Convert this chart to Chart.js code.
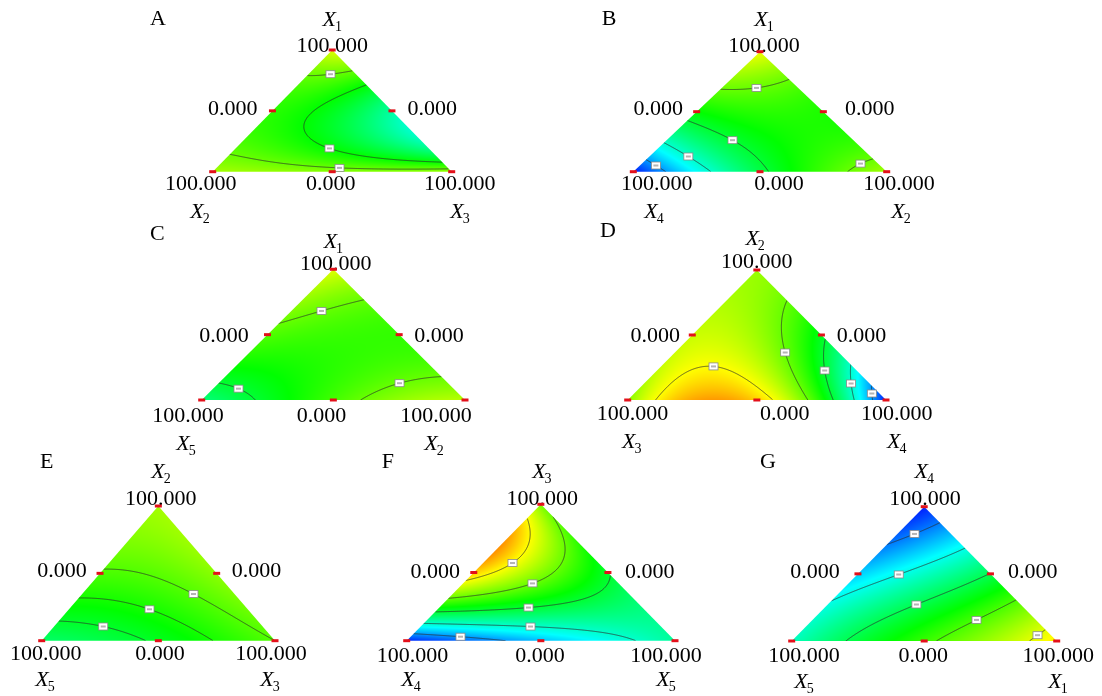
<!DOCTYPE html>
<html><head><meta charset="utf-8">
<script src="https://cdn.jsdelivr.net/npm/chart.js@4.4.0/dist/chart.umd.min.js"></script>
<style>
html,body{margin:0;padding:0;background:#fff;}
#wrap{position:relative;width:1102px;height:696px;overflow:hidden;background:#fff;}
#wrap canvas{position:absolute;}
</style></head>
<body><div id="wrap"></div>
<script>
// ===================== DATA =====================
const panelLetters   = ['A','B','C','D','E','F','G'];
const topComponent   = ['1','1','1','2','2','3','4'];
const leftComponent  = ['2','4','5','3','5','4','5'];
const rightComponent = ['3','2','2','4','3','5','1'];
const vertexTickLabel = '100.000';
const midTickLabel    = '0.000';

// {3,3} simplex lattice (in thirds): top, left, right component
const latticeTop   = [3,2,2,1,1,1,0,0,0,0];
const latticeLeft  = [0,1,0,2,1,0,3,2,1,0];
const latticeRight = [0,0,1,0,1,2,0,1,2,3];

// response at the lattice points (0 = blue ... 1 = red)
const responseA = [0.72,0.56,0.46,0.55,0.46,0.30,0.66,0.64,0.63,0.65];
const responseB = [0.74,0.59,0.56,0.38,0.50,0.53,0.02,0.32,0.52,0.66];
const responseC = [0.72,0.62,0.57,0.53,0.54,0.56,0.38,0.50,0.62,0.68];
const responseD = [0.65,0.68,0.56,0.70,0.68,0.35,0.63,0.85,0.64,0.03];
const responseE = [0.66,0.61,0.65,0.525,0.55,0.62,0.40,0.44,0.505,0.58];
const responseF = [0.62,0.86,0.52,0.63,0.52,0.40,0.04,0.14,0.24,0.35];
const responseG = [0.03,0.14,0.29,0.26,0.40,0.55,0.31,0.48,0.62,0.77];

// contour levels (same colour-scale units)
const levelsA = [0.50,0.60];
const levelsB = [0.15,0.30,0.45,0.60];
const levelsC = [0.45,0.60];
const levelsD = [0.15,0.30,0.45,0.60,0.75];
const levelsE = [0.46,0.52,0.58];
const levelsF = [0.15,0.30,0.45,0.60,0.75];
const levelsG = [0.12,0.27,0.42,0.57,0.72];

// design-point markers (vertices + edge midpoints): top, left, right fractions
const markerTop   = [1,0.5,0.5,0,0,0];
const markerLeft  = [0,0.5,0,1,0.5,0];
const markerRight = [0,0,0.5,0,0.5,1];

const responses = [responseA,responseB,responseC,responseD,responseE,responseF,responseG];
const levels    = [levelsA,levelsB,levelsC,levelsD,levelsE,levelsF,levelsG];

// ===================== LAYOUT (page px) =====================
const layout = [
 {L:[212.7,171.7], R:[451.7,171.7], Ty:50,   topTick:[0,1.7],   leftMid:[-15,4],    rightMid:[15.6,4],  bL:[-12,18.3],  bM:[-1.4,18.3], bR:[8,18.3],   tT:[0,-24],    tL:[-12.7,45.8], tR:[8.3,45.8],  letter:[150,25]},
 {L:[633.3,171.7], R:[886.7,171.7], Ty:51.7, topTick:[4,0],     leftMid:[-13.7,3.3],rightMid:[21.7,3.3],bL:[23.4,18.3], bM:[19,18.3],   bR:[12.3,18.3],tT:[4,-25.7],  tL:[20.7,45.8],  tR:[14.3,45.8], letter:[601.7,25]},
 {L:[201.7,400],   R:[465,400],     Ty:269.3,topTick:[2.3,1],   leftMid:[-18.7,7],  rightMid:[15,7],    bL:[-13.7,21.7],bM:[-11.8,21.7],bR:[-29,21.7], tT:[0,-21.7],  tL:[-15.7,49.6], tR:[-31,49.6],  letter:[150,240]},
 {L:[627.7,400],   R:[886,400],     Ty:270,  topTick:[0,-1.7],  leftMid:[-12.2,6.7],rightMid:[15.4,6.7],bL:[4.8,20],    bM:[28,20],     bR:[10.7,20],  tT:[-1.7,-25.4],tL:[4,47.6],    tR:[10.7,47.6], letter:[600,236.7]},
 {L:[41.7,640.7],  R:[275,640.7],   Ty:506,  topTick:[2.5,-1],  leftMid:[-13.3,3.4],rightMid:[15,3.4],  bL:[4.1,19.3],  bM:[1.7,19.3],  bR:[-4,19.3],  tT:[2.7,-28],  tL:[3.3,45.6],   tR:[-5,45.6],   letter:[40,468.3]},
 {L:[406.7,640.7], R:[675,640.7],   Ty:504.3,topTick:[1.5,0.7], leftMid:[-13.8,5.8],rightMid:[17,5.8],  bL:[5.8,21],    bM:[-0.8,21],   bR:[-9,21],    tT:[1,-26.3],  tL:[4.3,45.6],   tR:[-9,45.6],   letter:[381.7,468.3]},
 {L:[791.7,641],   R:[1056.7,641],  Ty:506.7,topTick:[0.8,-1.7],leftMid:[-18.3,4.5],rightMid:[17.5,4.5],bL:[12.3,20.7], bM:[-1,20.7],   bR:[1.6,20.7], tT:[0,-28.7],  tL:[12.3,46.6],  tR:[1.3,46.6],  letter:[760,468.3]}
];

const FONT = '"Liberation Serif","Times New Roman",serif';
const colorStops = [[0,0,0,255],[0.25,0,255,255],[0.5,0,255,0],[0.75,255,255,0],[1,255,0,0]];

function colorAt(v){
  v = Math.max(0, Math.min(1, v));
  for (let i=1;i<colorStops.length;i++){
    const a=colorStops[i-1], b=colorStops[i];
    if (v<=b[0]){ const f=(v-a[0])/(b[0]-a[0]);
      return [a[1]+(b[1]-a[1])*f, a[2]+(b[2]-a[2])*f, a[3]+(b[3]-a[3])*f]; }
  }
  return [255,0,0];
}
function phi(k,x){ const s=3*x; if(k===0) return 1; if(k===1) return s; if(k===2) return s*(s-1)/2; return s*(s-1)*(s-2)/6; }

function buildChains(segs){
  const map=new Map();
  segs.forEach((s,i)=>{ for(const k of [s.k1,s.k2]){ if(!map.has(k)) map.set(k,[]); map.get(k).push(i);} });
  const used=new Uint8Array(segs.length), chains=[];
  for(let s0=0;s0<segs.length;s0++){
    if(used[s0]) continue; used[s0]=1;
    const pts=[segs[s0].p1, segs[s0].p2];
    let k=segs[s0].k2;
    while(true){ const n=(map.get(k)||[]).find(q=>!used[q]); if(n===undefined) break; used[n]=1; const s=segs[n];
      if(s.k1===k){pts.push(s.p2);k=s.k2;} else {pts.push(s.p1);k=s.k1;} }
    k=segs[s0].k1;
    while(true){ const n=(map.get(k)||[]).find(q=>!used[q]); if(n===undefined) break; used[n]=1; const s=segs[n];
      if(s.k1===k){pts.unshift(s.p2);k=s.k2;} else {pts.unshift(s.p1);k=s.k1;} }
    chains.push(pts);
  }
  return chains;
}

const ternaryPlugin = {
  id:'ternary',
  beforeDatasetsDraw(chart){
    const o = chart.options.plugins.ternary;
    const ctx = chart.ctx, xs = chart.scales.x, ys = chart.scales.y;
    const P = (t,r)=>[xs.getPixelForValue(r+t/2), ys.getPixelForValue(t)];
    const T=P(1,0), L=P(0,0), R=P(0,1);
    const mL=P(0.5,0), mR=P(0.5,0.5), mB=P(0,0.5);
    const g=o.geo;
    // ---- texts ----
    ctx.save();
    ctx.fillStyle='#000'; ctx.textBaseline='alphabetic';
    ctx.font='22px '+FONT;
    ctx.textAlign='center';
    ctx.fillText(vertexTickLabel, T[0]+g.topTick[0], T[1]+g.topTick[1]);
    ctx.fillText(vertexTickLabel, L[0]+g.bL[0], L[1]+g.bL[1]);
    ctx.fillText(midTickLabel,    mB[0]+g.bM[0], mB[1]+g.bM[1]);
    ctx.fillText(vertexTickLabel, R[0]+g.bR[0], R[1]+g.bR[1]);
    ctx.textAlign='right';
    ctx.fillText(midTickLabel, mL[0]+g.leftMid[0], mL[1]+g.leftMid[1]);
    ctx.textAlign='left';
    ctx.fillText(midTickLabel, mR[0]+g.rightMid[0], mR[1]+g.rightMid[1]);
    ctx.fillText(o.letter, o.letterPos[0], o.letterPos[1]);
    const title=(sub,cx,by)=>{
      ctx.font='italic 22px '+FONT; const w1=ctx.measureText('X').width;
      ctx.font='14px '+FONT; const w2=ctx.measureText(sub).width;
      const x=cx-(w1+w2-1)/2;
      ctx.font='italic 22px '+FONT; ctx.fillText('X',x,by);
      ctx.font='14px '+FONT; ctx.fillText(sub,x+w1-1,by+5);
    };
    title(o.tTop, T[0]+g.tT[0], T[1]+g.tT[1]);
    title(o.tLeft, L[0]+g.tL[0], L[1]+g.tL[1]);
    title(o.tRight, R[0]+g.tR[0], R[1]+g.tR[1]);
    ctx.restore();

    // ---- response surface ----
    const nodes = chart.data.datasets[1].data.map(p=>{ const t=p.y, r=p.x-p.y/2, l=1-t-r;
      return [Math.round(3*t),Math.round(3*l),Math.round(3*r),p.v]; });
    const surf=(t,l,r)=>{ let v=0; for(const n of nodes) v+=n[3]*phi(n[0],t)*phi(n[1],l)*phi(n[2],r); return v; };
    const x0=Math.floor(L[0])-2, x1=Math.ceil(R[0])+2, y0=Math.floor(T[1])-2, y1=Math.ceil(L[1])+2;
    const W=x1-x0, H=y1-y0;
    const F=new Float32Array(W*H);
    const off=document.createElement('canvas'); off.width=W; off.height=H;
    const octx=off.getContext('2d'); const img=octx.createImageData(W,H);
    const bary=(px,py)=>{ const xv=xs.getValueForPixel(px), yv=ys.getValueForPixel(py); const t=yv, r=xv-t/2; return [t,1-t-r,r]; };
    for(let j=0;j<H;j++) for(let i=0;i<W;i++){
      const b=bary(x0+i+0.5,y0+j+0.5);
      const v=surf(b[0],b[1],b[2]); F[j*W+i]=v;
      const c=colorAt(v), q=(j*W+i)*4;
      img.data[q]=c[0]; img.data[q+1]=c[1]; img.data[q+2]=c[2]; img.data[q+3]=255;
    }
    octx.putImageData(img,0,0);
    ctx.save();
    ctx.beginPath(); ctx.moveTo(T[0],T[1]); ctx.lineTo(L[0],L[1]); ctx.lineTo(R[0],R[1]); ctx.closePath();
    ctx.clip();
    ctx.drawImage(off,x0,y0);

    // ---- contours ----
    const labels=[];
    for(const lev of o.levels){
      const segs=[];
      for(let j=0;j<H-1;j++) for(let i=0;i<W-1;i++){
        const a=F[j*W+i], b=F[j*W+i+1], c=F[(j+1)*W+i+1], d=F[(j+1)*W+i];
        const idx=(a>lev?8:0)|(b>lev?4:0)|(c>lev?2:0)|(d>lev?1:0);
        if(idx===0||idx===15) continue;
        const E={
          T:()=>({k:'h'+i+','+j,     p:[i+(lev-a)/(b-a), j]}),
          R:()=>({k:'v'+(i+1)+','+j, p:[i+1, j+(lev-b)/(c-b)]}),
          B:()=>({k:'h'+i+','+(j+1), p:[i+(lev-d)/(c-d), j+1]}),
          L:()=>({k:'v'+i+','+j,     p:[i, j+(lev-a)/(d-a)]})
        };
        const m=(a+b+c+d)/4;
        let pairs;
        switch(idx){
          case 1: case 14: pairs=[['L','B']]; break;
          case 2: case 13: pairs=[['B','R']]; break;
          case 3: case 12: pairs=[['L','R']]; break;
          case 4: case 11: pairs=[['T','R']]; break;
          case 6: case 9:  pairs=[['T','B']]; break;
          case 7: case 8:  pairs=[['T','L']]; break;
          case 5:  pairs = m>lev ? [['T','L'],['B','R']] : [['T','R'],['L','B']]; break;
          case 10: pairs = m>lev ? [['T','R'],['L','B']] : [['T','L'],['B','R']]; break;
        }
        for(const pr of pairs){
          const e1=E[pr[0]](), e2=E[pr[1]]();
          const p1=[x0+e1.p[0]+0.5, y0+e1.p[1]+0.5], p2=[x0+e2.p[0]+0.5, y0+e2.p[1]+0.5];
          const bm=bary((p1[0]+p2[0])/2,(p1[1]+p2[1])/2);
          if(Math.min(bm[0],bm[1],bm[2])<0) continue;
          segs.push({k1:e1.k,p1,k2:e2.k,p2});
        }
      }
      const chains=buildChains(segs);
      ctx.strokeStyle='rgba(45,45,45,0.8)'; ctx.lineWidth=0.9;
      for(const ch of chains){
        ctx.beginPath(); ctx.moveTo(ch[0][0],ch[0][1]);
        for(let k=1;k<ch.length;k++) ctx.lineTo(ch[k][0],ch[k][1]);
        ctx.stroke();
        let len=0; const cum=[0];
        for(let k=1;k<ch.length;k++){ len+=Math.hypot(ch[k][0]-ch[k-1][0],ch[k][1]-ch[k-1][1]); cum.push(len); }
        if(len>10){ const half=len/2; let k=1; while(cum[k]<half) k++; labels.push(ch[k]); }
      }
    }
    ctx.restore();
    ctx.save();
    for(const p of labels){
      ctx.fillStyle='#ffffff'; ctx.fillRect(p[0]-4.5,p[1]-3.5,9,7);
      ctx.strokeStyle='#8a8a8a'; ctx.lineWidth=0.8; ctx.strokeRect(p[0]-4.5,p[1]-3.5,9,7);
      ctx.fillStyle='#b4b4b4'; ctx.fillRect(p[0]-2.5,p[1]-1,5,2);
    }
    ctx.restore();
  }
};

const wrap=document.getElementById('wrap');
for(let p=0;p<7;p++){
  const g=layout[p];
  const cx=Math.round(g.L[0])-75, cy=Math.round(g.Ty)-58;
  const w=Math.round(g.R[0]-g.L[0])+150, h=Math.round(g.L[1]-g.Ty)+118;
  const cv=document.createElement('canvas');
  cv.width=w; cv.height=h; cv.style.left=cx+'px'; cv.style.top=cy+'px'; cv.style.width=w+'px'; cv.style.height=h+'px';
  wrap.appendChild(cv);
  const markers=markerTop.map((t,i)=>({x:markerRight[i]+t/2, y:t}));
  const lattice=latticeTop.map((t,i)=>({x:latticeRight[i]/3+t/6, y:t/3, v:responses[p][i]}));
  new Chart(cv,{
    type:'scatter',
    data:{datasets:[
      {data:markers, pointStyle:'line', pointRadius:3.5, borderColor:'#e3101a', backgroundColor:'#e3101a', borderWidth:3, clip:false},
      {data:lattice, pointRadius:0, pointHoverRadius:0, showLine:false}
    ]},
    options:{
      responsive:false, animation:false, events:[],
      layout:{padding:{left:g.L[0]-cx, right:w-(g.R[0]-cx), top:g.Ty-cy, bottom:h-(g.L[1]-cy)}},
      scales:{x:{type:'linear',min:0,max:1,display:false}, y:{type:'linear',min:0,max:1,display:false}},
      plugins:{legend:{display:false}, tooltip:{enabled:false},
        ternary:{geo:g, levels:levels[p], letter:panelLetters[p], letterPos:[g.letter[0]-cx, g.letter[1]-cy],
                 tTop:topComponent[p], tLeft:leftComponent[p], tRight:rightComponent[p]}}
    },
    plugins:[ternaryPlugin]
  });
}
</script></body></html>
